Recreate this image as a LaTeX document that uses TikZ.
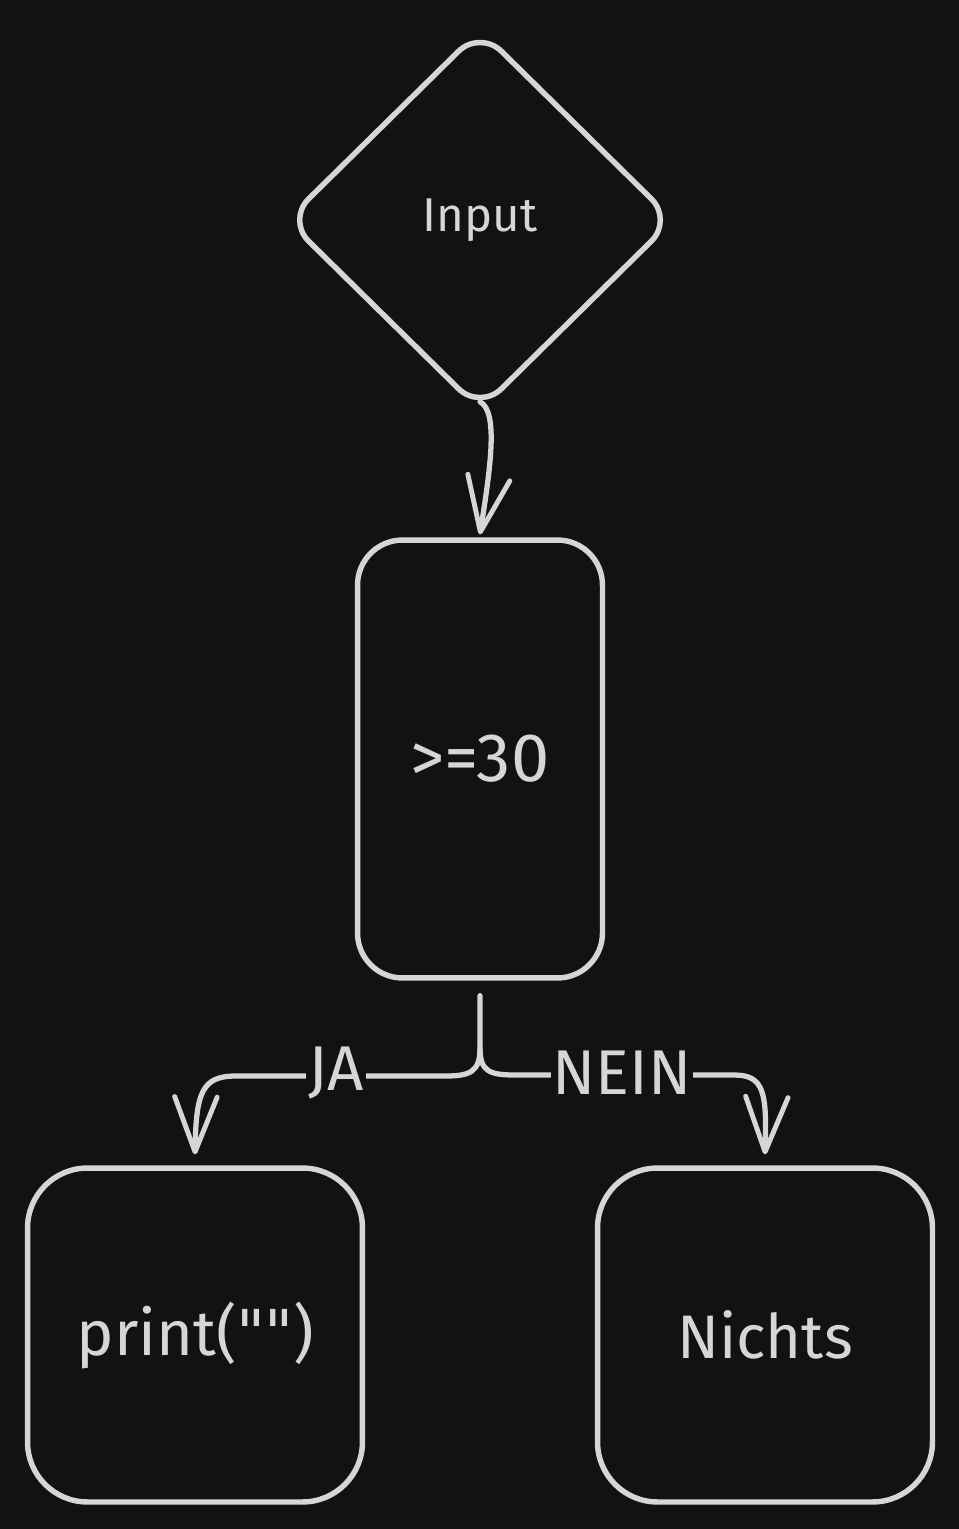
\documentclass[tikz,border=0pt]{standalone}
\usepackage{fontspec}
\setmainfont{Fira Sans}
\newfontfamily\quotefont{DejaVu Sans}
\usetikzlibrary{shapes.geometric,arrows.meta}
\definecolor{bg}{HTML}{121212}
\definecolor{fg}{HTML}{D6D6D6}
\tikzset{
  shapebox/.style={draw=fg, line width=3.1pt, text=fg, align=center},
  conn/.style={draw=fg, line width=3.0pt, line cap=round, line join=round},
  arr/.style={conn, -{Straight Barb[length=1.1cm,width=0.85cm,line width=2.8pt,round]}},
  lbl/.style={text=fg, fill=bg, inner sep=1pt, font=\fontsize{36}{40}\selectfont}
}
\begin{document}
\begin{tikzpicture}[x=0.02cm,y=-0.02cm]
\useasboundingbox (0,0) rectangle (959,1529);
\fill[bg] (0,0) rectangle (959,1529);

\node[shapebox, diamond, aspect=1, minimum width=7.76cm, minimum height=7.64cm,
      rounded corners=0.6cm, font=\fontsize{27}{30}\selectfont] (dia) at (480,220) {Input};

\node[shapebox, rectangle, rounded corners=0.9cm, minimum width=4.9cm, minimum height=8.76cm,
      font=\fontsize{39}{44}\selectfont] (cond) at (480,759) {>=30};

\node[shapebox, rectangle, rounded corners=1.2cm, minimum width=6.7cm, minimum height=6.68cm,
      font=\fontsize{36}{40}\selectfont] (yes) at (195,1335) {print({\quotefont\symbol{34}\kern-1pt\symbol{34}})};

\node[shapebox, rectangle, rounded corners=1.2cm, minimum width=6.7cm, minimum height=6.68cm,
      font=\fontsize{35}{40}\selectfont] (no) at (765,1335) {Nichts};

% Input -> condition
\draw[arr] ([yshift=0.24cm]dia.south) .. controls (499,412) and (490,470) .. ([yshift=0.06cm]cond.north);

% fork
\coordinate (fork) at (480,1048);
\draw[arr] ([yshift=-0.3cm]cond.south) -- (fork)
  .. controls (480,1072) and (470,1076) .. (445,1076) -- (236,1076)
  .. controls (202,1076) and (196,1092) .. ([yshift=0.22cm]yes.north);
\draw[arr] (fork)
  .. controls (480,1072) and (490,1075) .. (516,1075) -- (734,1075)
  .. controls (764,1075) and (767,1092) .. ([yshift=0.22cm]no.north);

\node[lbl] (ja) at (336,1073) {JA};
\node[lbl] (nein) at (622,1073) {NEIN};
\end{tikzpicture}
\end{document}
